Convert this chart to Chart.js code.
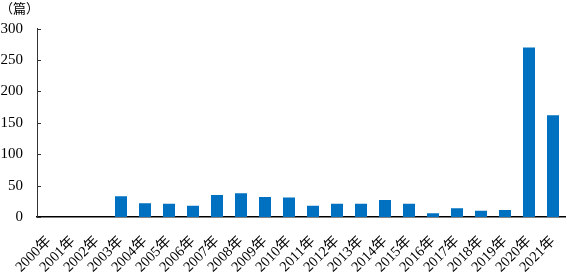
<!DOCTYPE html>
<html>
<head>
<meta charset="utf-8">
<script src="https://cdn.jsdelivr.net/npm/chart.js@4.4.1/dist/chart.umd.min.js"></script>
<style>
  html, body { margin: 0; padding: 0; background: #fff; }
  #wrap { width: 567px; height: 276px; }
</style>
</head>
<body>
<div id="wrap"><canvas id="chart-papers"></canvas></div>
<script>
// 年份
var years = ['2000年', '2001年', '2002年', '2003年', '2004年', '2005年', '2006年', '2007年',
             '2008年', '2009年', '2010年', '2011年', '2012年', '2013年', '2014年', '2015年',
             '2016年', '2017年', '2018年', '2019年', '2020年', '2021年'];
// 发文数量（篇）
var counts = [0, 0, 0, 33, 22, 21, 18, 35, 38, 32, 31, 18, 21, 21, 27, 21, 6, 14, 10, 11, 270, 162];
var yTicks = [0, 50, 100, 150, 200, 250, 300];
var unitLabel = '（篇）';

var serif = "'Liberation Serif', 'Times New Roman', 'Noto Sans CJK SC', serif";

// 刻度线画在坐标轴内侧
var innerTicks = {
    id: 'innerTicks',
    afterDraw: function (chart) {
        var c = chart.ctx, y = chart.scales.y, left = chart.chartArea.left;
        c.save();
        c.strokeStyle = '#333';
        c.lineWidth = 1;
        yTicks.forEach(function (v) {
            var py = Math.round(y.getPixelForValue(v)) + 0.5;
            c.beginPath();
            c.moveTo(left, py);
            c.lineTo(left + 4, py);
            c.stroke();
        });
        c.restore();
    }
};

var ctx = document.getElementById('chart-papers').getContext('2d');
var myChart = new Chart(ctx, {
    type: 'bar',
    data: {
        labels: years,
        datasets: [{
            data: counts,
            backgroundColor: '#0070C0',
            barPercentage: 0.5,
            categoryPercentage: 1.0
        }]
    },
    options: {
        responsive: true,
        maintainAspectRatio: false,
        animation: false,
        layout: { padding: { left: 0, right: 2, top: 0, bottom: 0 } },
        plugins: {
            legend: { display: false },
            tooltip: { enabled: false },
            title: {
                display: true,
                text: unitLabel,
                align: 'start',
                color: '#000',
                font: { family: serif, size: 13, weight: 'normal' },
                padding: { top: 2, bottom: 11 }
            }
        },
        scales: {
            x: {
                grid: { display: false, drawTicks: false },
                border: { display: true, color: '#000', width: 1.5 },
                ticks: {
                    color: '#000',
                    font: { family: serif, size: 14.5 },
                    minRotation: 45,
                    maxRotation: 45,
                    autoSkip: false,
                    padding: 16
                },
                afterFit: function (axis) {
                    axis.paddingLeft = 0;
                    axis.paddingRight = 0;
                    axis.height = 59;
                }
            },
            y: {
                min: 0,
                max: 300,
                afterBuildTicks: function (axis) {
                    axis.ticks = yTicks.map(function (v) { return { value: v }; });
                },
                grid: { display: false, drawTicks: false },
                border: { display: true, color: '#333', width: 1 },
                ticks: {
                    color: '#000',
                    font: { family: serif, size: 15 },
                    padding: 14
                },
                afterFit: function (axis) {
                    axis.width = 37;
                }
            }
        }
    },
    plugins: [innerTicks]
});
</script>
</body>
</html>
